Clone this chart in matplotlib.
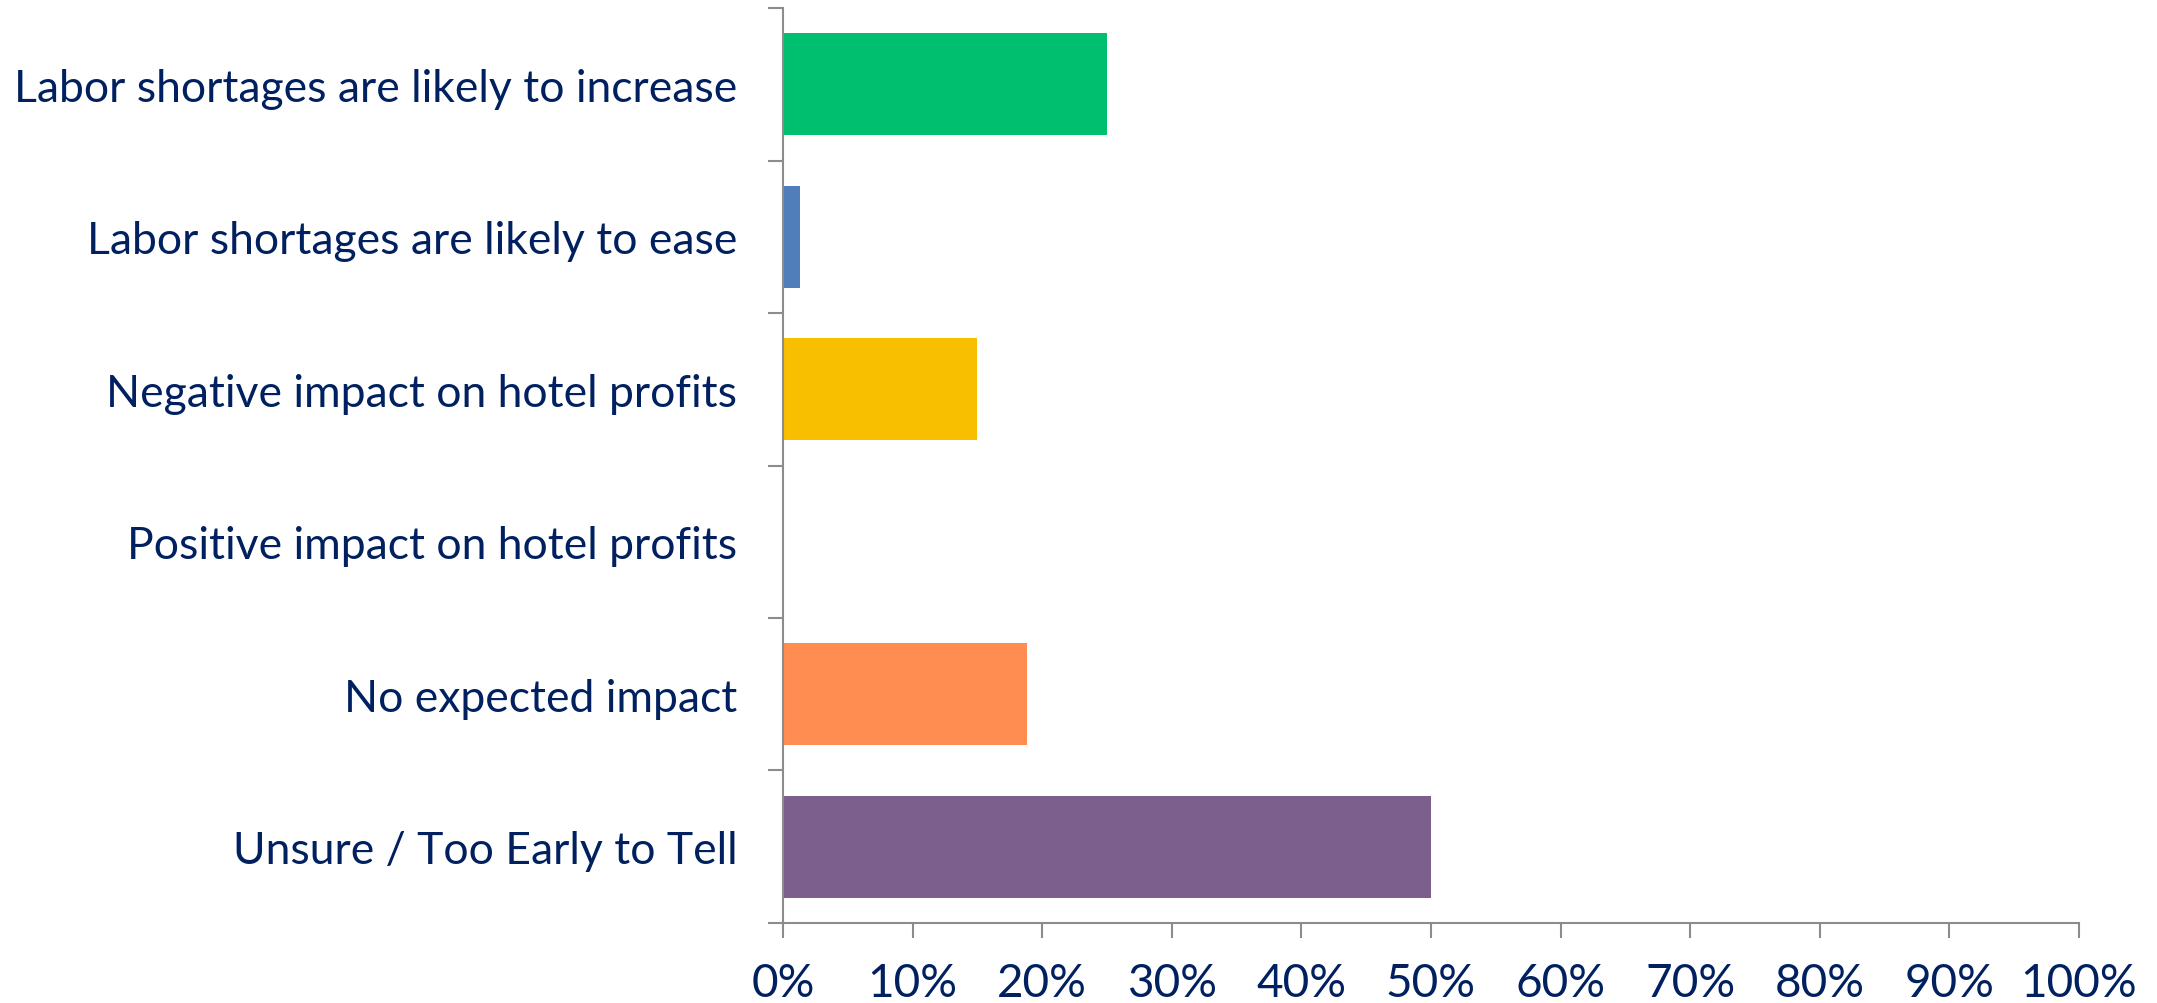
import numpy as np
import matplotlib.pyplot as plt
from matplotlib.ticker import FixedLocator

# survey answers, top to bottom
categories = ['Labor shortages are likely to increase',
              'Labor shortages are likely to ease',
              'Negative impact on hotel profits',
              'Positive impact on hotel profits',
              'No expected impact',
              'Unsure / Too Early to Tell']
shares = [25.0, 1.3, 15.0, 0.0, 18.8, 50.0]
bar_colors = ['#00BF6F', '#4F7EBA', '#F8BE00', '#7F7F7F', '#FF8C50', '#7D5F8E']
x_ticks = [0, 10, 20, 30, 40, 50, 60, 70, 80, 90, 100]
x_labels = ['%d%%' % t for t in x_ticks]

navy = '#002060'
grey = '#8C8C8C'

plt.rcParams['font.family'] = ['Lato', 'DejaVu Sans']

fig = plt.figure(figsize=(21.57, 10.04), dpi=100)
ax = fig.add_axes([0.363, 0.0797, 0.6008, 0.9113])

pos = np.arange(len(categories))
ax.barh(pos, shares, height=0.67, color=bar_colors)
ax.set_ylim(len(categories) - 0.5, -0.5)
ax.set_xlim(0, 100)

ax.set_yticks(pos)
ax.set_yticklabels(categories, fontsize=32, color=navy)
ax.tick_params(axis='y', which='major', length=0, pad=33)
ax.yaxis.set_minor_locator(FixedLocator(np.arange(-0.5, len(categories), 1)))
ax.tick_params(axis='y', which='minor', length=11, width=1.5, color=grey, direction='out')

ax.set_xticks(x_ticks)
ax.set_xticklabels(x_labels, fontsize=33, color=navy)
ax.tick_params(axis='x', length=11, width=1.5, color=grey, direction='out', pad=17)

for s in ['top', 'right']:
    ax.spines[s].set_visible(False)
for s in ['left', 'bottom']:
    ax.spines[s].set_color(grey)
    ax.spines[s].set_linewidth(1.5)

fig.savefig('out.png', dpi=100)
